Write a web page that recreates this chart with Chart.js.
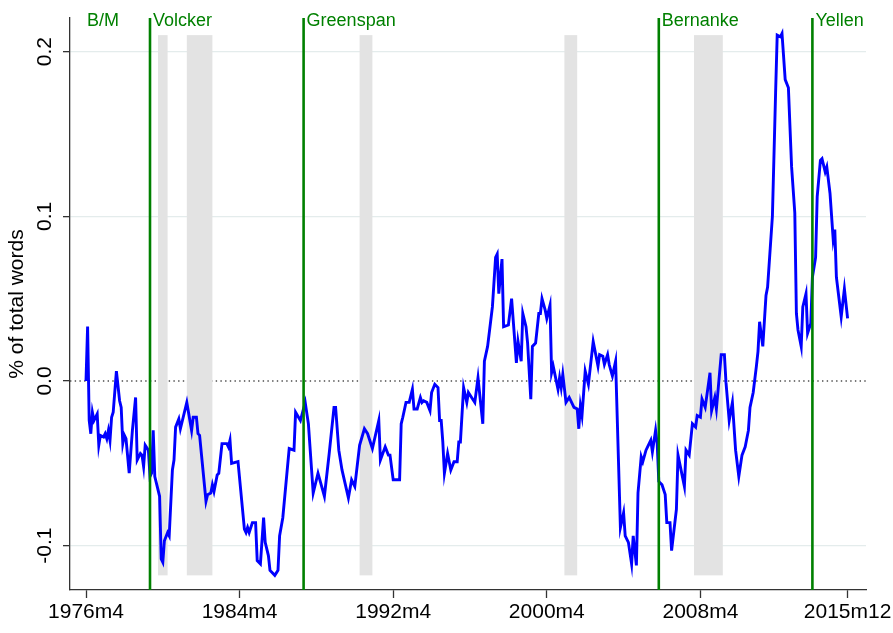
<!DOCTYPE html>
<html>
<head>
<meta charset="utf-8">
<script src="https://cdn.jsdelivr.net/npm/chart.js@4.4.1/dist/chart.umd.min.js"></script>
<style>
  html, body { margin: 0; padding: 0; background: #fff; }
  #wrap { width: 893px; height: 633px; }
</style>
</head>
<body>
<div id="wrap"><canvas id="chart" width="893" height="633"></canvas></div>
<script>
// month index: 0 = 1976m4 ... 476 = 2015m12
const months = [
  0, 1, 2, 3, 4, 5, 7, 8, 9, 11, 12, 13, 14, 15, 16, 17, 19, 21, 22, 23,
  24, 25, 27, 29, 31, 32, 34, 35, 36, 37, 39, 40, 41, 42, 43, 46, 47, 48, 49, 51,
  52, 54, 55, 56, 58, 59, 63, 66, 67, 69, 70, 71, 75, 76, 78, 79, 80, 82, 83, 85,
  88, 89, 90, 91, 95, 99, 100, 101, 102, 104, 106, 107, 109, 111, 112, 114, 115, 116, 118, 120,
  121, 123, 127, 130, 131, 134, 137, 139, 142, 145, 149, 152, 155, 156, 158, 160, 164, 166, 168, 171,
  174, 176, 179, 183, 184, 187, 189, 190, 192, 196, 197, 198, 200, 202, 204, 205, 207, 209, 210, 211,
  213, 215, 216, 218, 220, 221, 222, 223, 224, 226, 228, 230, 232, 233, 234, 236, 238, 239, 241, 243,
  245, 248, 249, 251, 254, 256, 257, 258, 260, 261, 264, 266, 269, 270, 272, 273, 275, 276, 278, 279,
  281, 283, 284, 285, 287, 288, 290, 291, 292, 295, 296, 297, 298, 300, 302, 305, 307, 308, 309, 310,
  312, 314, 317, 320, 321, 323, 324, 326, 327, 329, 331, 334, 336, 337, 339, 341, 342, 344, 345, 347,
  348, 350, 351, 353, 354, 356, 357, 358, 360, 362, 363, 365, 366, 369, 370, 374, 375, 377, 379, 381,
  382, 384, 385, 387, 390, 391, 393, 394, 397, 399, 400, 402, 404, 406, 408, 410, 412, 414, 415, 417,
  419, 420, 421, 423, 425, 426, 429, 431, 432, 434, 435, 437, 439, 441, 443, 444, 445, 447, 448, 450,
  451, 453, 454, 456, 457, 459, 460, 462, 463, 465, 467, 468, 469, 472, 474, 476
];
const share = [
  0.000, 0.033, -0.024, -0.032, -0.019, -0.024, -0.020, -0.039, -0.033, -0.034, -0.032, -0.035, -0.030, -0.036, -0.022, -0.019, 0.006, -0.012, -0.016, -0.038,
  -0.033, -0.035, -0.056, -0.030, -0.010, -0.048, -0.044, -0.045, -0.052, -0.039, -0.042, -0.058, -0.056, -0.030, -0.058, -0.070, -0.108, -0.110, -0.097, -0.092,
  -0.094, -0.054, -0.048, -0.028, -0.023, -0.029, -0.013, -0.030, -0.022, -0.022, -0.032, -0.033, -0.073, -0.069, -0.068, -0.063, -0.067, -0.057, -0.056, -0.038,
  -0.038, -0.040, -0.036, -0.050, -0.049, -0.090, -0.092, -0.089, -0.092, -0.086, -0.086, -0.109, -0.111, -0.083, -0.098, -0.106, -0.115, -0.116, -0.118, -0.115,
  -0.094, -0.083, -0.041, -0.042, -0.019, -0.024, -0.013, -0.026, -0.068, -0.056, -0.070, -0.044, -0.016, -0.016, -0.042, -0.054, -0.071, -0.060, -0.064, -0.039,
  -0.029, -0.032, -0.041, -0.024, -0.048, -0.040, -0.045, -0.045, -0.060, -0.060, -0.026, -0.022, -0.013, -0.013, -0.005, -0.017, -0.017, -0.010, -0.013, -0.012,
  -0.013, -0.018, -0.007, -0.002, -0.004, -0.024, -0.024, -0.037, -0.056, -0.044, -0.054, -0.049, -0.049, -0.037, -0.037, -0.004, -0.013, -0.007, -0.010, -0.013,
  0.002, -0.026, 0.012, 0.021, 0.045, 0.075, 0.077, 0.053, 0.074, 0.033, 0.034, 0.050, 0.011, 0.024, 0.012, 0.041, 0.033, 0.023, -0.011, 0.021,
  0.023, 0.041, 0.041, 0.050, 0.043, 0.038, 0.046, 0.005, 0.009, -0.005, 0.002, -0.004, 0.004, -0.013, -0.010, -0.016, -0.017, -0.029, -0.015, -0.021,
  0.006, -0.002, 0.024, 0.009, 0.016, 0.015, 0.010, 0.016, 0.010, 0.003, 0.012, -0.089, -0.080, -0.094, -0.098, -0.111, -0.094, -0.112, -0.068, -0.046,
  -0.049, -0.042, -0.040, -0.036, -0.043, -0.030, -0.038, -0.061, -0.063, -0.069, -0.086, -0.086, -0.103, -0.078, -0.045, -0.064, -0.042, -0.045, -0.026, -0.028,
  -0.021, -0.022, -0.011, -0.016, 0.005, -0.018, -0.010, -0.017, 0.016, 0.016, -0.001, -0.024, -0.013, -0.042, -0.058, -0.045, -0.040, -0.030, -0.016, -0.007,
  0.009, 0.018, 0.036, 0.021, 0.052, 0.057, 0.100, 0.175, 0.210, 0.209, 0.211, 0.183, 0.178, 0.130, 0.102, 0.041, 0.031, 0.021, 0.045, 0.053,
  0.029, 0.035, 0.063, 0.075, 0.112, 0.134, 0.135, 0.127, 0.130, 0.114, 0.086, 0.092, 0.063, 0.039, 0.056, 0.038
];

const tickMonths = [0, 96, 192, 288, 384, 476];
const tickLabels = ['1976m4', '1984m4', '1992m4', '2000m4', '2008m4', '2015m12'];
const yTicks = [-0.1, 0, 0.1, 0.2];

// NBER recessions (month index)
const recessionStart = [45, 63, 171, 299, 380];
const recessionEnd = [51, 79, 179, 307, 398];

// Fed chairs
const chairNames = ['B/M', 'Volcker', 'Greenspan', 'Bernanke', 'Yellen'];
const chairStart = [0, 40, 136, 358, 454];

const FONT = 'Arial, "Liberation Sans", sans-serif';

// ====== SHADING, ZERO LINE, CHAIR MARKERS ======
const overlays = {
  id: 'overlays',
  beforeDatasetsDraw(chart) {
    const { ctx, chartArea: a, scales: { x, y } } = chart;
    ctx.save();
    const y0 = y.getPixelForValue(0);
    ctx.strokeStyle = '#4d4d4d';
    ctx.lineWidth = 1.4;
    ctx.setLineDash([1.4, 3.3]);
    ctx.beginPath();
    ctx.moveTo(a.left, y0);
    ctx.lineTo(a.right, y0);
    ctx.stroke();
    ctx.setLineDash([]);

    ctx.fillStyle = '#e3e3e3';
    const top = y.getPixelForValue(0.21);
    const bot = y.getPixelForValue(-0.118);
    recessionStart.forEach((s, i) => {
      const x1 = x.getPixelForValue(s);
      const x2 = x.getPixelForValue(recessionEnd[i]);
      ctx.fillRect(x1, top, x2 - x1, bot - top);
    });
    ctx.restore();
  },
  afterDatasetsDraw(chart) {
    const { ctx, chartArea: a, scales: { x } } = chart;
    ctx.save();
    ctx.strokeStyle = '#008000';
    ctx.fillStyle = '#008000';
    ctx.lineWidth = 2.6;
    ctx.font = '18px ' + FONT;
    ctx.textBaseline = 'alphabetic';
    chairStart.forEach((m, i) => {
      const px = x.getPixelForValue(m);
      if (i > 0) {
        ctx.beginPath();
        ctx.moveTo(px, a.top);
        ctx.lineTo(px, a.bottom);
        ctx.stroke();
      }
      ctx.fillText(chairNames[i], px + (i > 0 ? 3 : 1), 26);
    });
    ctx.restore();
  }
};

new Chart(document.getElementById('chart'), {
  type: 'line',
  data: {
    datasets: [{
      data: months.map((m, i) => ({ x: m, y: share[i] })),
      borderColor: '#0000ff',
      borderWidth: 2.9,
      pointRadius: 0,
      tension: 0,
      fill: false
    }]
  },
  options: {
    responsive: false,
    animation: false,
    events: [],
    layout: { padding: { top: 18, right: 27, bottom: 0, left: 0 } },
    plugins: { legend: { display: false }, tooltip: { enabled: false } },
    scales: {
      x: {
        type: 'linear',
        min: -10,
        max: 487.5,
        afterBuildTicks: s => { s.ticks = tickMonths.map(v => ({ value: v })); },
        ticks: {
          callback: v => tickLabels[tickMonths.indexOf(v)],
          font: { family: FONT, size: 21 },
          color: '#000',
          padding: 2,
          minRotation: 0,
          maxRotation: 0,
          autoSkip: false
        },
        grid: { drawOnChartArea: false, drawTicks: true, tickLength: 8, tickColor: '#333', tickWidth: 1.3 },
        border: { display: true, color: '#333', width: 1.3 },
        afterFit: s => { s.height = 43; s.paddingLeft = 0; s.paddingRight = 0; }
      },
      y: {
        min: -0.1269,
        max: 0.2204,
        afterBuildTicks: s => { s.ticks = yTicks.map(v => ({ value: v })); },
        ticks: {
          callback: v => v.toFixed(1),
          font: { family: FONT, size: 21 },
          color: '#000',
          minRotation: 90,
          maxRotation: 90,
          crossAlign: 'center',
          padding: 0
        },
        grid: {
          color: c => (c.tick && c.tick.value === 0) ? 'rgba(0,0,0,0)' : '#e4ecec',
          lineWidth: 1.3,
          drawTicks: true,
          tickLength: 7,
          tickColor: '#333',
          tickWidth: 1.3
        },
        border: { color: '#333', width: 1.3 },
        title: {
          display: true,
          text: '% of total words',
          font: { family: FONT, size: 21 },
          color: '#000',
          padding: { top: 5, bottom: 0 }
        },
        afterFit: s => { s.width = 70; s.paddingTop = 0; s.paddingBottom = 0; }
      }
    }
  },
  plugins: [overlays]
});
</script>
</body>
</html>
